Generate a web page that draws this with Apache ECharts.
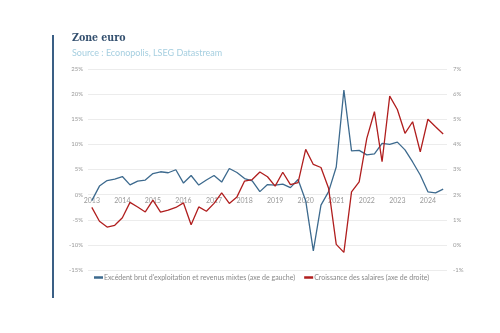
<!DOCTYPE html>
<html>
<head>
<meta charset="utf-8">
<script src="https://cdn.jsdelivr.net/npm/echarts@6/dist/echarts.min.js"></script>
<style>html,body{margin:0;padding:0;background:#fff;}#c{width:500px;height:333px;}</style>
</head>
<body>
<div id="c"></div>
<script>
const quarters = [
 '2013 T1','2013 T2','2013 T3','2013 T4','2014 T1','2014 T2','2014 T3','2014 T4',
 '2015 T1','2015 T2','2015 T3','2015 T4','2016 T1','2016 T2','2016 T3','2016 T4',
 '2017 T1','2017 T2','2017 T3','2017 T4','2018 T1','2018 T2','2018 T3','2018 T4',
 '2019 T1','2019 T2','2019 T3','2019 T4','2020 T1','2020 T2','2020 T3','2020 T4',
 '2021 T1','2021 T2','2021 T3','2021 T4','2022 T1','2022 T2','2022 T3','2022 T4',
 '2023 T1','2023 T2','2023 T3','2023 T4','2024 T1','2024 T2','2024 T3'
];
const ebe = [
 -1.2, 1.7, 2.8, 3.1, 3.6, 1.95, 2.7, 2.9,
 4.2, 4.55, 4.35, 4.95, 2.3, 3.8, 1.9, 2.9,
 3.8, 2.5, 5.2, 4.4, 3.2, 2.75, 0.6, 2.0,
 1.9, 2.1, 1.4, 3.0, -1.2, -11.2, -2.1, 0.6,
 5.5, 20.8, 8.7, 8.8, 7.9, 8.1, 10.2, 10.0,
 10.45, 8.9, 6.5, 3.9, 0.56, 0.36, 1.1
];
const salaires = [
 1.49, 0.94, 0.71, 0.78, 1.08, 1.69, 1.51, 1.31,
 1.78, 1.30, 1.38, 1.49, 1.67, 0.80, 1.51, 1.34,
 1.65, 2.07, 1.65, 1.91, 2.54, 2.6, 2.9, 2.71,
 2.34, 2.89, 2.40, 2.48, 3.8, 3.2, 3.08, 2.25,
 0.02, -0.3, 2.11, 2.51, 4.24, 5.3, 3.31, 5.92,
 5.39, 4.44, 4.9, 3.7, 5.0, 4.7, 4.41
];
const leftTicks = {min: -15, max: 25, interval: 5};
const rightTicks = {min: -1, max: 7, interval: 1};
const names = ["Excédent brut d'exploitation et revenus mixtes (axe de gauche)", 'Croissance des salaires (axe de droite)'];

const gridTop = 69, gridBottom = 63, H = 333;
// place x-axis labels at the 0% line of the left axis
const plotH = H - gridTop - gridBottom;
const zeroOffset = -plotH * (0 - leftTicks.min) / (leftTicks.max - leftTicks.min);

const chart = echarts.init(document.getElementById('c'), null, {renderer: 'canvas'});
const lblStyle = {color: '#9a9a9a', fontSize: 6, fontFamily: 'Lato'};
chart.setOption({
  animation: false,
  backgroundColor: '#fff',
  title: [
    {text: 'Zone euro', left: 72, top: 33, padding: 0, textStyle: {fontFamily: 'DejaVu Serif Condensed', fontSize: 10.5, fontWeight: 'bold', color: '#34506f'}},
    {text: 'Source : Econopolis, LSEG Datastream', left: 72, top: 49, padding: 0, textStyle: {fontFamily: 'Lato', fontSize: 9, fontWeight: 'normal', color: '#a6cfe0'}}
  ],
  graphic: [{type: 'line', shape: {x1: 53, y1: 35, x2: 53, y2: 298}, style: {stroke: '#3a5f85', lineWidth: 2}}],
  grid: {left: 88, right: 53, top: gridTop, bottom: gridBottom},
  legend: {
    left: 94, top: 274, padding: 0, itemGap: 9, itemWidth: 9, itemHeight: 2.5, icon: 'rect',
    textStyle: {color: '#888', fontSize: 7, fontFamily: 'Lato', padding: [0, 0, 0, -4]},
    data: names
  },
  xAxis: {
    type: 'category', data: quarters, boundaryGap: true, position: 'bottom', offset: zeroOffset,
    axisLine: {show: false, onZero: false},
    axisTick: {show: false},
    axisLabel: {interval: 0, margin: 3, color: '#9a9a9a', fontSize: 7, fontFamily: 'Lato',
      formatter: function (v) { return v.endsWith('T1') ? v.slice(0, 4) : ''; }},
    splitLine: {show: false}
  },
  yAxis: [
    {type: 'value', min: leftTicks.min, max: leftTicks.max, interval: leftTicks.interval,
     axisLine: {show: false}, axisTick: {show: false},
     axisLabel: Object.assign({formatter: '{value}%', margin: 5}, lblStyle),
     splitLine: {lineStyle: {color: '#ececec', width: 1}}},
    {type: 'value', min: rightTicks.min, max: rightTicks.max, interval: rightTicks.interval,
     axisLine: {show: false}, axisTick: {show: false},
     axisLabel: Object.assign({formatter: '{value}%', margin: 6}, lblStyle),
     splitLine: {show: false}}
  ],
  series: [
    {name: names[0], type: 'line', yAxisIndex: 0, data: ebe, symbol: 'none',
     lineStyle: {color: '#3d6a8e', width: 1.3}, itemStyle: {color: '#3d6a8e'}},
    {name: names[1], type: 'line', yAxisIndex: 1, data: salaires, symbol: 'none',
     lineStyle: {color: '#b01e1e', width: 1.3}, itemStyle: {color: '#b01e1e'}}
  ]
});
</script>
</body>
</html>
